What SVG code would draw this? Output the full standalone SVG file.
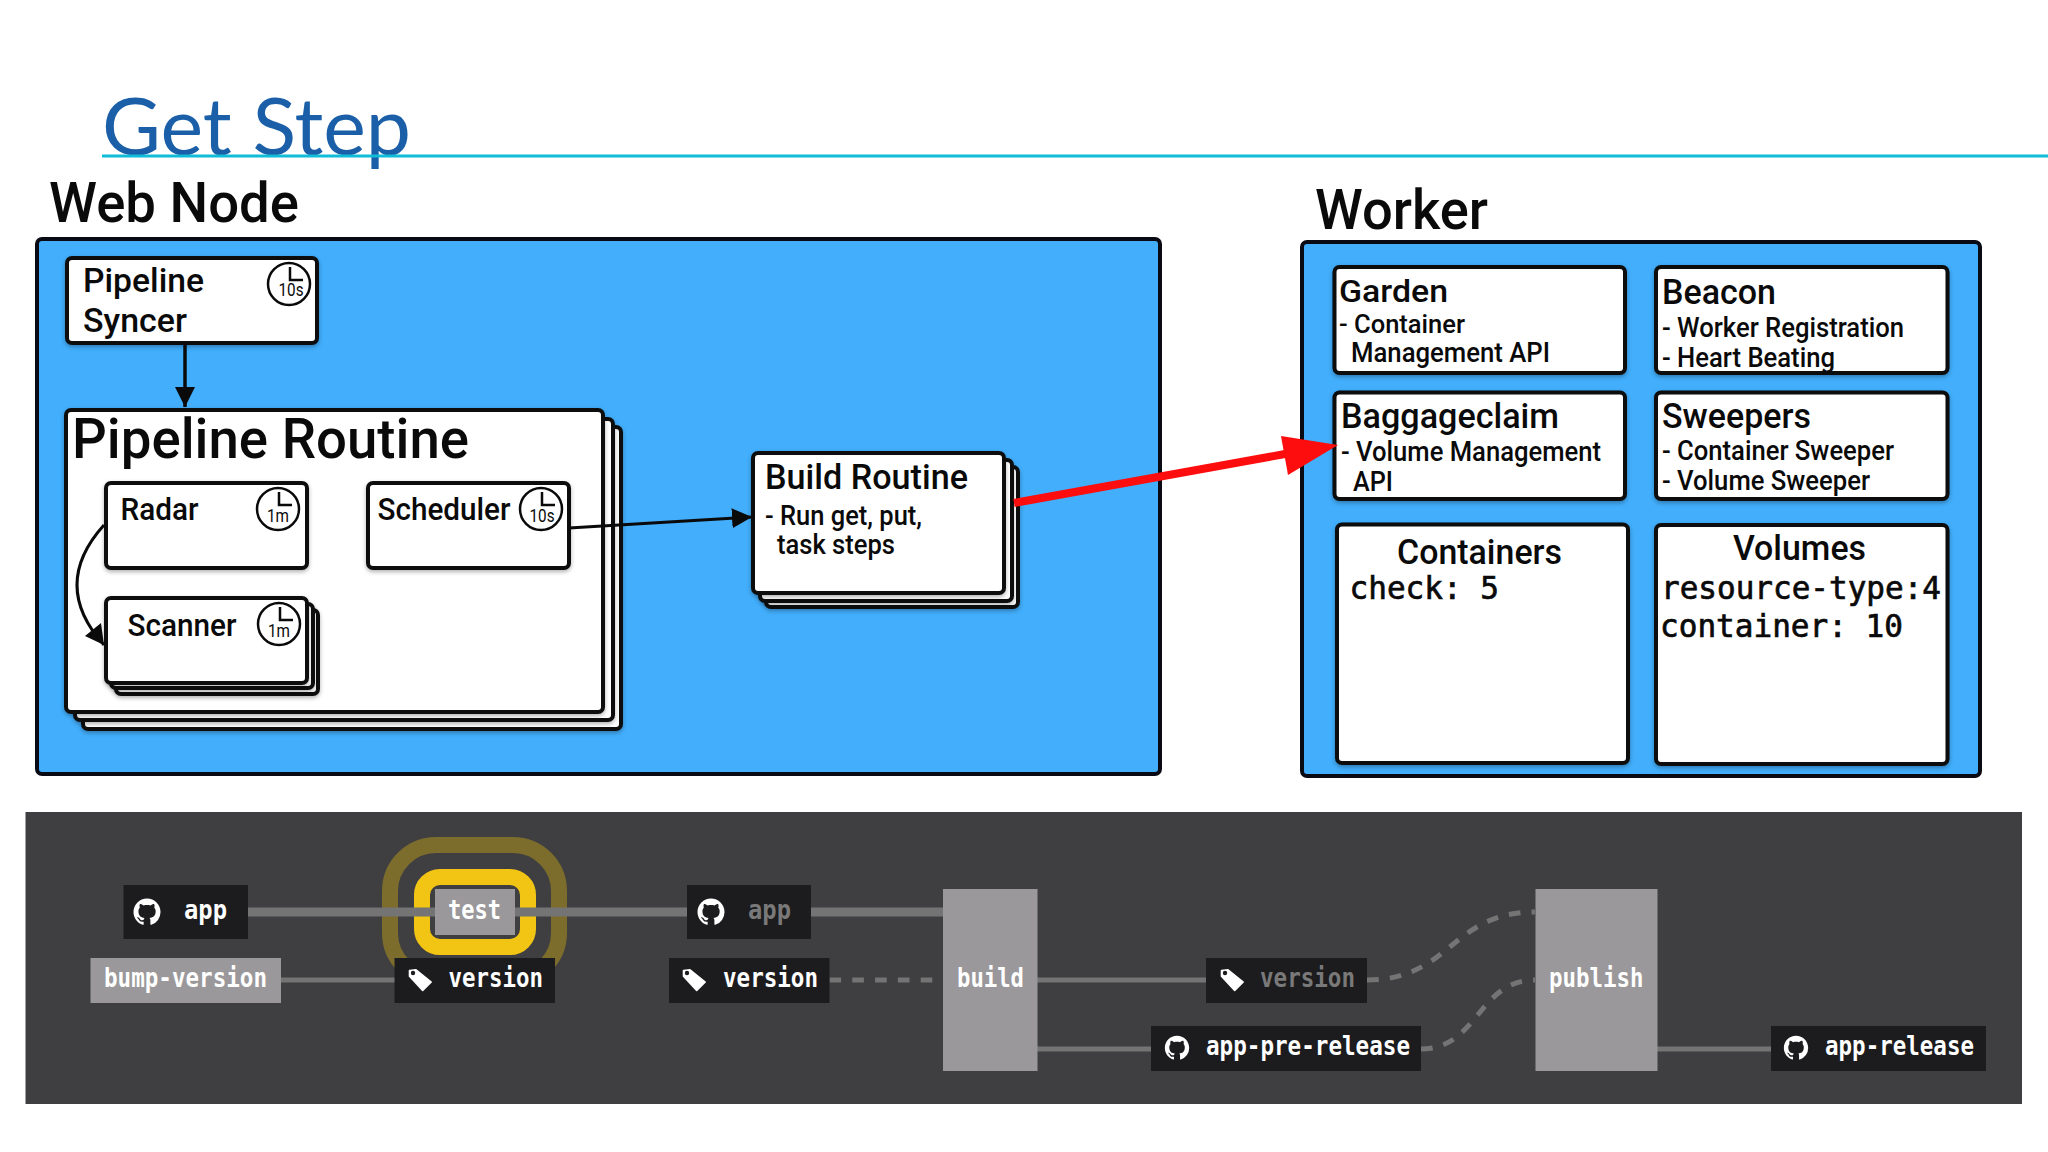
<svg xmlns="http://www.w3.org/2000/svg" width="2048" height="1152" viewBox="0 0 2048 1152">
<style>
text{font-family:Roboto,"Liberation Sans",sans-serif;fill:#0a0a0a}
.h1{font-size:55px;font-weight:500}
.h2{font-size:35px;font-weight:500}
.h3{font-size:31px;font-weight:500}
.sub{font-size:27px;font-weight:500}
.mono{font-family:"DejaVu Sans Mono","Liberation Mono",monospace;font-size:32px;stroke:#0a0a0a;stroke-width:.7px}
.clk{font-size:19px;text-anchor:middle;font-weight:400}
.big{fill:#42aefc;stroke:#0a0a14;stroke-width:4}
.card{fill:#fff;stroke:#0a0a0a;stroke-width:4;filter:url(#sh)}
.dk{fill:#1c1c1e}
.st{fill:#9a989a}
.dt{font-family:"DejaVu Sans Mono","Liberation Mono",monospace;font-size:27px;fill:#fff;font-weight:700}
.w{stroke:#757475;fill:none;stroke-width:5}
.t{stroke:#757475;fill:none;stroke-width:9}
.d{stroke:#757475;fill:none;stroke-width:5;stroke-dasharray:11.6 11.2}
</style>
<defs>
<filter id="sh" x="-5%" y="-5%" width="110%" height="115%"><feDropShadow dx="0" dy="2" stdDeviation="2" flood-color="#000" flood-opacity=".3"/></filter>
<marker id="ab" markerUnits="userSpaceOnUse" viewBox="0 0 20 20" markerWidth="20" markerHeight="20" refX="20" refY="10" orient="auto"><path d="M0 0L20 10L0 20z" fill="#0a0a0a"/></marker>
<g id="clock"><circle r="21" fill="#fff" stroke="#0a0a0a" stroke-width="2.5"/><path d="M1 -17V-4H14" fill="none" stroke="#0a0a0a" stroke-width="2.5"/></g>
<path id="gh" transform="translate(-13.500 -13.500) scale(1.690)" fill="#fff" fill-rule="evenodd" d="M8 0C3.58 0 0 3.58 0 8c0 3.54 2.29 6.53 5.47 7.59.4.07.55-.17.55-.38 0-.19-.01-.82-.01-1.49-2.01.37-2.53-.49-2.69-.94-.09-.23-.48-.94-.82-1.13-.28-.15-.68-.52-.01-.53.63-.01 1.08.58 1.23.82.72 1.21 1.87.87 2.33.66.07-.52.28-.87.51-1.07-1.78-.2-3.64-.89-3.64-3.95 0-.87.31-1.59.82-2.15-.08-.2-.36-1.02.08-2.12 0 0 .67-.21 2.2.82.64-.18 1.32-.27 2-.27.68 0 1.36.09 2 .27 1.53-1.04 2.2-.82 2.2-.82.44 1.1.16 1.92.08 2.12.51.56.82 1.27.82 2.15 0 3.07-1.87 3.75-3.65 3.95.29.25.54.73.54 1.48 0 1.07-.01 1.93-.01 2.2 0 .21.15.46.55.38A8.013 8.013 0 0016 8c0-4.42-3.58-8-8-8z"/>
<g id="tag"><path d="M-10.500 -9.500L-4 -10.200L11.200 2L2.700 10.500L-10.500 -3.700z" fill="#fff" stroke="#fff" stroke-width="1.600" stroke-linejoin="round"/><circle cx="-7" cy="-7" r="2.200" fill="#1c1c1e"/></g>
</defs>
<rect width="2048" height="1152" fill="#fff"/>

<g id="header">
<text x="102" y="155" font-size="79" style="font-family:Lato,'Open Sans',sans-serif;font-weight:400;fill:#1a5fa8" textLength="309" lengthAdjust="spacingAndGlyphs">Get Step</text>
<path d="M102 156H2048" stroke="#10bcd8" stroke-width="3" fill="none"/>
</g>

<g id="web-node">
<text class="h1" x="49" y="222" textLength="250" lengthAdjust="spacingAndGlyphs">Web Node</text>
<rect class="big" x="37" y="239" width="1123" height="535" rx="5"/>
</g>

<g id="pipeline-syncer">
<rect class="card" x="67" y="258" width="250" height="85" rx="5"/>
<text class="h3" x="83" y="292" style="font-size:33px" textLength="121" lengthAdjust="spacingAndGlyphs">Pipeline</text>
<text class="h3" x="83" y="332" style="font-size:33px" textLength="104" lengthAdjust="spacingAndGlyphs">Syncer</text>
<use href="#clock" x="289" y="284"/>
<text class="clk" x="291" y="296" textLength="25" lengthAdjust="spacingAndGlyphs">10s</text>
</g>

<g id="pipeline-routine">
<rect class="card" x="83" y="427" width="538" height="302" rx="5"/>
<rect class="card" x="75" y="419" width="538" height="301" rx="5"/>
<rect class="card" x="66" y="410" width="537" height="302" rx="5"/>
<text x="72" y="458" class="h1" textLength="397" lengthAdjust="spacingAndGlyphs">Pipeline Routine</text>
</g>

<g id="radar">
<rect class="card" x="106" y="483" width="201" height="85" rx="5"/>
<text class="h3" x="120.500" y="520" textLength="78" lengthAdjust="spacingAndGlyphs">Radar</text>
<use href="#clock" x="278" y="509"/>
<text class="clk" x="278" y="522" textLength="22" lengthAdjust="spacingAndGlyphs">1m</text>
</g>

<g id="scheduler">
<rect class="card" x="368" y="483" width="201" height="85" rx="5"/>
<text class="h3" x="377.500" y="520" textLength="133" lengthAdjust="spacingAndGlyphs">Scheduler</text>
<use href="#clock" x="541" y="509"/>
<text class="clk" x="542" y="522" textLength="25" lengthAdjust="spacingAndGlyphs">10s</text>
</g>

<g id="scanner">
<rect class="card" x="116" y="610" width="202" height="84" rx="5"/>
<rect class="card" x="111" y="604" width="202" height="84" rx="5"/>
<rect class="card" x="106" y="598" width="201" height="85" rx="5"/>
<text class="h3" x="127.500" y="636" textLength="109" lengthAdjust="spacingAndGlyphs">Scanner</text>
<use href="#clock" x="279" y="624"/>
<text class="clk" x="279" y="637" textLength="22" lengthAdjust="spacingAndGlyphs">1m</text>
</g>

<g id="build-routine">
<rect class="card" x="766" y="467" width="252" height="140" rx="5"/>
<rect class="card" x="760" y="460" width="252" height="141" rx="5"/>
<rect class="card" x="753" y="453" width="251" height="140" rx="5"/>
<text class="h2" x="765" y="489" textLength="203" lengthAdjust="spacingAndGlyphs">Build Routine</text>
<text class="sub" x="765" y="525" textLength="157" lengthAdjust="spacingAndGlyphs">- Run get, put,</text>
<text class="sub" x="777" y="554" textLength="118" lengthAdjust="spacingAndGlyphs">task steps</text>
</g>

<g id="worker">
<text class="h1" x="1315" y="229" textLength="173" lengthAdjust="spacingAndGlyphs">Worker</text>
<rect class="big" x="1302" y="242" width="678" height="534" rx="5"/>
</g>

<g id="garden">
<rect class="card" x="1334.500" y="267" width="290.500" height="106" rx="5"/>
<text class="h2" x="1339" y="302" style="font-size:32px" textLength="109" lengthAdjust="spacingAndGlyphs">Garden</text>
<text class="sub" x="1339" y="333" style="font-size:25px" textLength="126" lengthAdjust="spacingAndGlyphs">- Container</text>
<text class="sub" x="1351" y="362" textLength="199" lengthAdjust="spacingAndGlyphs">Management API</text>
</g>

<g id="beacon">
<rect class="card" x="1656" y="267" width="291.500" height="106" rx="5"/>
<text class="h2" x="1662" y="304" textLength="114" lengthAdjust="spacingAndGlyphs">Beacon</text>
<text class="sub" x="1662" y="337" textLength="242" lengthAdjust="spacingAndGlyphs">- Worker Registration</text>
<text class="sub" x="1662" y="367" textLength="173" lengthAdjust="spacingAndGlyphs">- Heart Beating</text>
</g>

<g id="baggageclaim">
<rect class="card" x="1334.500" y="392.500" width="290.500" height="106.500" rx="5"/>
<text class="h2" x="1341" y="428" textLength="218" lengthAdjust="spacingAndGlyphs">Baggageclaim</text>
<text class="sub" x="1341" y="461" textLength="260" lengthAdjust="spacingAndGlyphs">- Volume Management</text>
<text class="sub" x="1353" y="491" textLength="40" lengthAdjust="spacingAndGlyphs">API</text>
</g>

<g id="sweepers">
<rect class="card" x="1656" y="392.500" width="291.500" height="106.500" rx="5"/>
<text class="h2" x="1662" y="428" textLength="149" lengthAdjust="spacingAndGlyphs">Sweepers</text>
<text class="sub" x="1662" y="460" textLength="232" lengthAdjust="spacingAndGlyphs">- Container Sweeper</text>
<text class="sub" x="1662" y="490" textLength="208" lengthAdjust="spacingAndGlyphs">- Volume Sweeper</text>
</g>

<g id="containers">
<rect class="card" x="1337" y="524.500" width="291" height="238.500" rx="5"/>
<text class="h2" x="1397" y="564" textLength="165" lengthAdjust="spacingAndGlyphs">Containers</text>
<text class="mono" x="1349.500" y="599" textLength="149.500" lengthAdjust="spacingAndGlyphs">check: 5</text>
</g>

<g id="volumes">
<rect class="card" x="1656" y="525" width="291.500" height="239" rx="5"/>
<text class="h2" x="1733" y="560" textLength="133" lengthAdjust="spacingAndGlyphs">Volumes</text>
<text class="mono" x="1661" y="599" textLength="280" lengthAdjust="spacingAndGlyphs">resource-type:4</text>
<text class="mono" x="1660" y="637" textLength="243" lengthAdjust="spacingAndGlyphs">container: 10</text>
</g>

<g id="connectors">
<path d="M185 343V407" fill="none" stroke="#0a0a0a" stroke-width="3.500" marker-end="url(#ab)"/>
<path d="M104 525C68 565 68 605 104 645" fill="none" stroke="#0a0a0a" stroke-width="3"/>
<path d="M104 645L85 636L101 623z" fill="#0a0a0a"/>
<path d="M569 528L752 517" fill="none" stroke="#0a0a0a" stroke-width="3" marker-end="url(#ab)"/>
<path d="M1014 503L1285 454" fill="none" stroke="#fd0d0d" stroke-width="8"/>
<path d="M1338 445L1281 436L1288 475z" fill="#fd0d0d"/>
</g>

<rect id="panel" x="25.500" y="812" width="1996.500" height="292" fill="#3f3e40"/>

<g id="pipeline-connectors">
<path class="w" d="M281 980H395"/>
<path class="t" d="M811 912H943"/>
<path class="d" d="M829.500 980H933"/>
<path class="w" d="M1037 980H1206"/>
<path class="w" d="M1037 1049H1151"/>
<path class="w" d="M1657 1049H1771"/>
<path class="d" d="M1367 980C1451 980 1451 912 1535 912"/>
<path class="d" d="M1421 1049C1478 1049 1478 980 1535 980"/>
</g>

<g id="test">
<rect x="390" y="845" width="169" height="134" rx="46" fill="none" stroke="#7c6d2c" stroke-width="16"/>
<rect x="422" y="877" width="106" height="70" rx="18" fill="#3f3e40" stroke="#f2c514" stroke-width="16"/>
<path class="t" d="M248 912H435M515 912H687"/>
<rect class="st" x="435" y="889" width="80" height="46"/>
<text class="dt" x="448" y="919" textLength="53" lengthAdjust="spacingAndGlyphs">test</text>
</g>

<g id="app-1">
<rect class="dk" x="123.500" y="885" width="124.500" height="54"/>
<use href="#gh" x="147" y="912"/>
<text class="dt" x="184" y="919" textLength="43" lengthAdjust="spacingAndGlyphs">app</text>
</g>

<g id="bump-version">
<rect class="st" x="90.500" y="958" width="190.500" height="45"/>
<text class="dt" x="104" y="987" textLength="163" lengthAdjust="spacingAndGlyphs">bump-version</text>
</g>

<g id="version-1">
<rect class="dk" x="394.500" y="958" width="160.500" height="45"/>
<use href="#tag" x="420" y="980"/>
<text class="dt" x="448.500" y="987" textLength="94.500" lengthAdjust="spacingAndGlyphs">version</text>
</g>

<g id="app-2">
<rect class="dk" x="687" y="885" width="124" height="54"/>
<use href="#gh" x="711" y="912"/>
<text class="dt" x="748" y="919" style="fill:#7a797a" textLength="43" lengthAdjust="spacingAndGlyphs">app</text>
</g>

<g id="version-2">
<rect class="dk" x="669" y="958" width="160.500" height="45"/>
<use href="#tag" x="694" y="980"/>
<text class="dt" x="723" y="987" textLength="95" lengthAdjust="spacingAndGlyphs">version</text>
</g>

<g id="build">
<rect class="st" x="943" y="889" width="94.500" height="182"/>
<text class="dt" x="957" y="987" textLength="67" lengthAdjust="spacingAndGlyphs">build</text>
</g>

<g id="version-3">
<rect class="dk" x="1206" y="958" width="161" height="45"/>
<use href="#tag" x="1232" y="980"/>
<text class="dt" x="1260" y="987" style="fill:#7a797a" textLength="95" lengthAdjust="spacingAndGlyphs">version</text>
</g>

<g id="app-pre-release">
<rect class="dk" x="1151" y="1026" width="270" height="45"/>
<use href="#gh" transform="translate(1177 1048) scale(.9)"/>
<text class="dt" x="1206" y="1055" textLength="204" lengthAdjust="spacingAndGlyphs">app-pre-release</text>
</g>

<g id="publish">
<rect class="st" x="1535.500" y="889" width="122" height="182"/>
<text class="dt" x="1549" y="987" textLength="94.500" lengthAdjust="spacingAndGlyphs">publish</text>
</g>

<g id="app-release">
<rect class="dk" x="1771" y="1026" width="215" height="45"/>
<use href="#gh" transform="translate(1796 1048) scale(.9)"/>
<text class="dt" x="1825" y="1055" textLength="149" lengthAdjust="spacingAndGlyphs">app-release</text>
</g>
</svg>
